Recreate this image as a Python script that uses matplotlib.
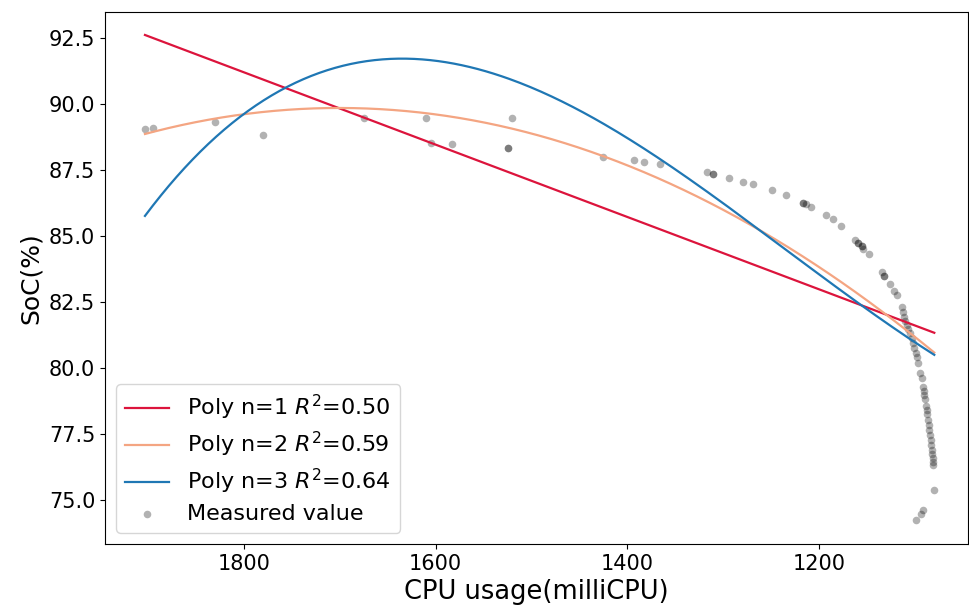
import numpy as np
import matplotlib
matplotlib.use("Agg")
import matplotlib.pyplot as plt

# Measured values (CPU usage in milliCPU, SoC in %)
cpu = [1903.3, 1894.6, 1830.3, 1779.9, 1674.8, 1610.4, 1604.9, 1582.6,
       1524.2, 1524.2, 1520.7, 1425.7, 1392.7, 1382.6, 1365.6, 1316.5,
       1310.9, 1310.9, 1293.6, 1278.8, 1269.1, 1248.7, 1234.4, 1216.7,
       1216.7, 1213.5, 1208.6, 1192.4, 1185.0, 1177.5, 1162.4, 1159.0,
       1159.0, 1155.4, 1155.4, 1153.7, 1147.5, 1134.5, 1131.8, 1131.8,
       1125.6, 1121.4, 1119.1, 1113.7, 1112.6, 1111.3, 1110.2, 1108.5,
       1106.8, 1105.0, 1103.2, 1102.2, 1100.5, 1098.8, 1097.4, 1096.4,
       1094.1, 1092.8, 1091.1, 1090.4, 1090.1, 1089.4, 1088.3, 1087.6,
       1087.0, 1085.9, 1085.2, 1084.9, 1084.1, 1083.4, 1082.8, 1082.5,
       1081.7, 1081.3, 1081.0, 1080.7, 1079.7, 1091.1, 1093.5, 1099.1]
soc = [89.05, 89.09, 89.33, 88.81, 89.48, 89.48, 88.51, 88.47,
       88.31, 88.31, 89.48, 88.00, 87.89, 87.81, 87.72, 87.43,
       87.35, 87.35, 87.19, 87.05, 86.98, 86.72, 86.55, 86.25,
       86.25, 86.19, 86.09, 85.78, 85.63, 85.38, 84.85, 84.72,
       84.72, 84.60, 84.60, 84.51, 84.31, 83.65, 83.48, 83.48,
       83.17, 82.92, 82.75, 82.29, 82.13, 81.94, 81.79, 81.63,
       81.47, 81.31, 81.12, 80.94, 80.75, 80.56, 80.41, 80.20,
       79.80, 79.61, 79.29, 79.14, 78.98, 78.81, 78.56, 78.41,
       78.26, 78.03, 77.84, 77.65, 77.46, 77.27, 77.08, 76.89,
       76.74, 76.58, 76.45, 76.33, 75.38, 74.62, 74.47, 74.24]

# Fitted curves (x, y anchor points)
fit1_x = [1903.3, 1079.7]
fit1_y = [92.61, 81.33]
fit2_x = [1903.3, 1700.0, 1425.7, 1269.0, 1079.7]
fit2_y = [88.86, 89.85, 88.00, 85.40, 80.57]
fit3_x = [1903.3, 1801.0, 1637.0, 1473.0, 1269.0, 1159.0, 1079.7]
fit3_y = [85.76, 89.58, 91.74, 90.15, 85.42, 82.46, 80.49]

labels = ["Poly n=1 $R^2$=0.50", "Poly n=2 $R^2$=0.59", "Poly n=3 $R^2$=0.64"]
colors = ["#dc143c", "#f4a582", "#1f77b4"]
xticks = [1800, 1600, 1400, 1200]
yticks = [75.0, 77.5, 80.0, 82.5, 85.0, 87.5, 90.0, 92.5]

fig = plt.figure(figsize=(9.7, 6.12), dpi=100)
ax = fig.add_axes([105/970, 68/612, (968.5-105)/970, (544-12)/612])

xs = np.linspace(min(cpu), max(cpu), 300)
for deg, (fx, fy), lab, col in zip([1, 2, 3],
                                   [(fit1_x, fit1_y), (fit2_x, fit2_y), (fit3_x, fit3_y)],
                                   labels, colors):
    coef = np.polyfit(fx, fy, deg)
    ax.plot(xs, np.polyval(coef, xs), color=col, lw=1.6, label=lab)

ax.scatter(cpu, soc, s=30, color="black", alpha=0.3, linewidths=0, label="Measured value")

ax.set_xlim(1945, 1044)
ax.set_ylim(73.33, 93.48)
ax.set_xticks(xticks)
ax.set_yticks(yticks)
ax.set_yticklabels([f"{v:.1f}" for v in yticks])
ax.tick_params(labelsize=15)
ax.set_xlabel("CPU usage(milliCPU)", fontsize=18.5)
ax.set_ylabel("SoC(%)", fontsize=18)
ax.legend(loc="lower left", fontsize=16, scatterpoints=1, labelspacing=0.35)

fig.savefig("out.png", dpi=100)
